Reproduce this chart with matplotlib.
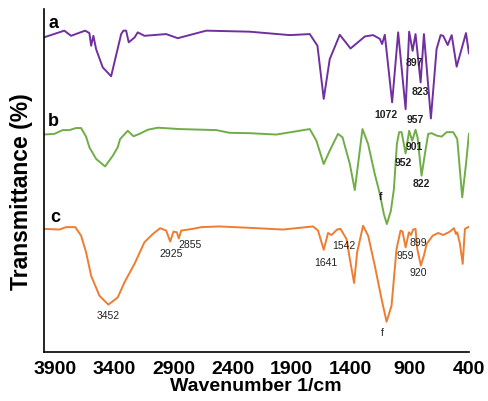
import numpy as np
from matplotlib import pyplot as plt

# wavenumbers (1/cm) and stacked transmittance
wn_a = [4000, 3824, 3767, 3648, 3612, 3597, 3578, 3555, 3499, 3428, 3343, 3324, 3301,
        3279, 3230, 3203, 3146, 2962, 2864, 2623, 2256, 1917, 1747, 1682, 1629, 1578,
        1493, 1402, 1281, 1211, 1154, 1135, 1112, 1050, 999, 936, 906, 877, 852, 809,
        781, 722, 674, 640, 618, 580, 546, 504, 425, 400]
tr_a = [91.7, 93.7, 92.2, 93.7, 93.0, 89.3, 92.2, 88.3, 83.0, 80.4, 92.7, 93.7, 93.7,
        90.3, 91.7, 93.2, 92.2, 92.7, 91.5, 93.7, 93.4, 92.4, 92.7, 89.3, 73.8, 85.4,
        92.5, 88.5, 92.0, 92.4, 91.3, 89.8, 92.5, 72.8, 93.2, 70.8, 93.4, 87.8, 92.7, 78.6,
        92.7, 68.1, 88.3, 92.4, 92.2, 89.5, 92.4, 83.2, 93.0, 87.1]

wn_b = [4000, 3908, 3838, 3781, 3725, 3682, 3640, 3612, 3555, 3479, 3414, 3372, 3352,
        3287, 3239, 3188, 3118, 3033, 2849, 2538, 2425, 2256, 2030, 1747, 1691, 1629,
        1578, 1508, 1470, 1408, 1366, 1301, 1253, 1197, 1154, 1120, 1095, 1061, 1035,
        1010, 991, 970, 936, 906, 880, 852, 835, 801, 773, 745, 716, 674, 631, 589, 533,
        499, 457, 425, 400]
tr_b = [63.4, 63.6, 64.7, 64.7, 65.3, 65.3, 62.8, 59.7, 56.3, 54.1, 57.2, 59.7, 62.1,
        64.5, 62.9, 63.6, 64.8, 65.4, 65.0, 64.7, 63.9, 63.8, 63.4, 65.0, 61.6, 54.8,
        58.7, 63.6, 62.6, 54.8, 47.2, 65.0, 60.6, 51.9, 46.1, 40.2, 37.3, 41.1, 47.5,
        60.6, 64.1, 64.1, 57.9, 64.5, 61.6, 64.8, 62.6, 51.4, 57.7, 63.6, 63.8, 63.1, 62.8,
        64.1, 64.1, 62.1, 45.1, 54.8, 63.6]

wn_c = [4000, 3866, 3809, 3731, 3682, 3640, 3597, 3527, 3451, 3372, 3315, 3230, 3146,
        3075, 3013, 2962, 2928, 2900, 2872, 2855, 2835, 2736, 2665, 2510, 2256, 1974,
        1719, 1677, 1629, 1592, 1563, 1516, 1487, 1436, 1408, 1372, 1346, 1296, 1253,
        1197, 1140, 1097, 1055, 1013, 979, 962, 936, 908, 891, 872, 852, 838, 807, 781,
        758, 707, 660, 618, 561, 527, 510, 499, 476, 453, 434, 400]
tr_c = [35.9, 35.7, 36.4, 36.4, 33.9, 29.1, 22.2, 16.4, 13.8, 15.9, 20.3, 25.7, 32.0,
        34.4, 36.1, 35.4, 32.2, 35.1, 34.9, 33.1, 35.4, 35.9, 36.4, 36.6, 36.2, 35.7,
        36.6, 35.4, 29.8, 34.7, 34.1, 35.7, 35.9, 32.9, 27.1, 20.1, 29.1, 36.8, 33.9,
        25.2, 15.5, 8.8, 13.5, 30.0, 35.4, 35.1, 30.5, 34.9, 34.1, 35.7, 35.9, 30.2, 25.2,
        28.1, 31.5, 33.9, 34.7, 34.1, 35.1, 36.1, 34.4, 34.9, 31.5, 25.7, 35.9, 36.5]

# peak annotations: (text, wavenumber, transmittance)
peaks_ab = [("1072", 1103, 69.4), ("957", 857, 67.9), ("897", 866, 84.5),
            ("823", 815, 76.1), ("952", 955, 55.5), ("901", 866, 60.1),
            ("822", 807, 49.3), ("f", 1146, 45.6)]
peaks_c = [("3452", 3455, 10.8), ("2925", 2917, 28.9), ("2855", 2764, 31.5),
           ("1641", 1612, 26.2), ("1542", 1459, 31.2), ("959", 936, 28.4),
           ("899", 832, 32.1), ("920", 832, 23.3), ("f", 1131, 5.9)]
series_names = [("a", 3917, 96.1), ("b", 3917, 67.6), ("c", 3900, 39.4)]
xticks = [3900, 3400, 2900, 2400, 1900, 1400, 900, 400]

plt.rcParams['font.family'] = ['Liberation Sans', 'DejaVu Sans']

fig = plt.figure(figsize=(4.89, 4.02), dpi=100)
ax = fig.add_axes([0.089, 0.122, 0.870, 0.853])

ax.plot(wn_a, tr_a, color="#7030A0", lw=1.4)
ax.plot(wn_b, tr_b, color="#70AD47", lw=1.4)
ax.plot(wn_c, tr_c, color="#ED7D31", lw=1.4)

for txt, x, y in peaks_ab:
    ax.text(x, y, txt, fontsize=7.5, fontweight="bold", color="#222222",
            ha="center", va="center")
for txt, x, y in peaks_c:
    ax.text(x, y, txt, fontsize=7.5, color="#222222", ha="center", va="center")
for txt, x, y in series_names:
    ax.text(x, y, txt, fontsize=13, fontweight="bold", ha="center", va="center")

ax.set_xlim(4000, 400)
ax.set_ylim(0, 100)
ax.set_xticks(xticks)
ax.set_yticks([])
ax.tick_params(axis="x", length=0, pad=6, labelsize=14)
for lab in ax.get_xticklabels():
    lab.set_fontweight("bold")
ax.spines["top"].set_visible(False)
ax.spines["right"].set_visible(False)
ax.spines["left"].set_linewidth(1.2)
ax.spines["bottom"].set_linewidth(1.2)
ax.set_xlabel("Wavenumber 1/cm", fontsize=14, fontweight="bold", labelpad=0)
ax.set_ylabel("Transmittance (%)", fontsize=16.5, fontweight="bold")
ax.yaxis.set_label_coords(-0.025, 0.471)

fig.savefig("out.png", dpi=100)
